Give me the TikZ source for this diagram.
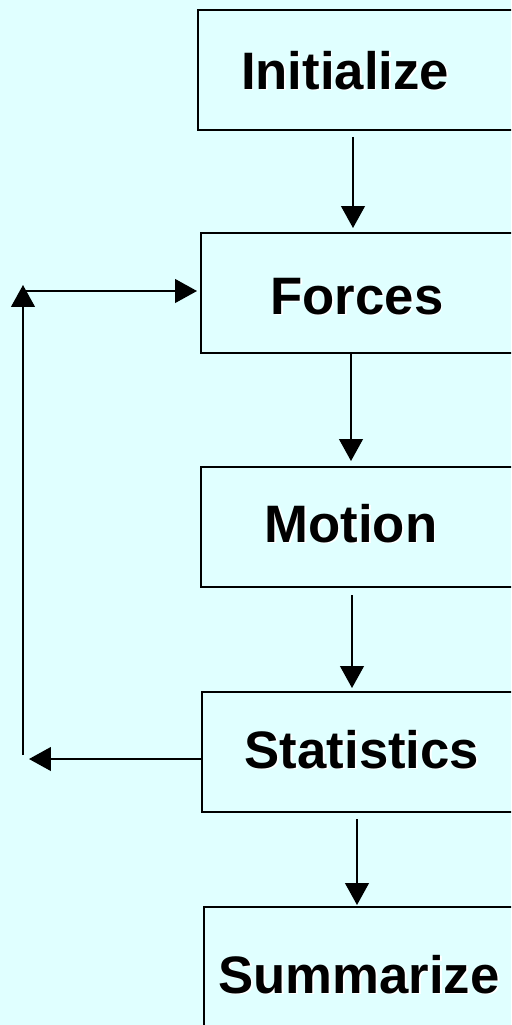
\documentclass[tikz,border=0pt]{standalone}
\usepackage{fontspec}
\setmainfont{Liberation Sans}
\usetikzlibrary{arrows.meta}
\definecolor{panel}{HTML}{E0FFFF}
% bold label with a light offset copy behind it
\newcommand{\raised}[1]{\rlap{\kern1pt\raisebox{-1pt}{\textcolor{white}{#1}}}#1}

\begin{document}
\begin{tikzpicture}[x=0.02cm,y=-0.02cm,line join=miter,
  stage/.style={draw,line width=1.15pt,anchor=north west,inner sep=0pt,
    minimum width=8cm,minimum height=2.4cm},
  word/.style={anchor=base,inner sep=0pt,font=\fontsize{30}{36}\selectfont\bfseries},
  flow/.style={line width=1.15pt,-{Triangle[length=12.5pt,width=13.5pt]}}]
  \useasboundingbox (0,0) rectangle (511,1025);
  \fill[panel] (0,0) rectangle (511,1025);
  \clip (0,0) rectangle (511,1025);

  % the five stages
  \node[stage] (init) at (197,9) {};
  \node[stage] (forces) at (200,232) {};
  \node[stage] (motion) at (200,466) {};
  \node[stage] (stats) at (201,691) {};
  \node[stage] (summ) at (203,906) {};
  \node[word] (initw) at (345,89) {\raised{Initialize}};
  \node[word] (forcesw) at (357,314) {\raised{Forces}};
  \node[word] (motionw) at (351,542) {\raised{Motion}};
  \node[word] (statsw) at (362,768) {\raised{Statistics}};
  \node[word] (summw) at (359,993) {\raised{Summarize}};

  % downward links
  \coordinate (a1) at (353,0);
  \coordinate (a2) at (351,0);
  \coordinate (a3) at (352,0);
  \coordinate (a4) at (357,0);
  \draw[flow,shorten <=0.12cm,shorten >=0.08cm] (a1 |- init.south) -- (a1 |- forces.north);
  \draw[flow,shorten >=0.1cm] (a2 |- forces.south) -- (a2 |- motion.north);
  \draw[flow,shorten <=0.14cm,shorten >=0.06cm] (a3 |- motion.south) -- (a3 |- stats.north);
  \draw[flow,shorten <=0.12cm,shorten >=0.02cm] (a4 |- stats.south) -- (a4 |- summ.north);

  % loop back from statistics to forces
  \coordinate (back) at (23,759);
  \coordinate (low) at (23,755);
  \coordinate (top) at (23,285);
  \coordinate (turn) at (23,291);
  \draw[flow,shorten >=0.12cm] (back -| stats.west) -- (back);
  \draw[flow] (low) -- (top);
  \draw[flow,shorten >=0.06cm] (turn) -- (turn -| forces.west);
\end{tikzpicture}
\end{document}
